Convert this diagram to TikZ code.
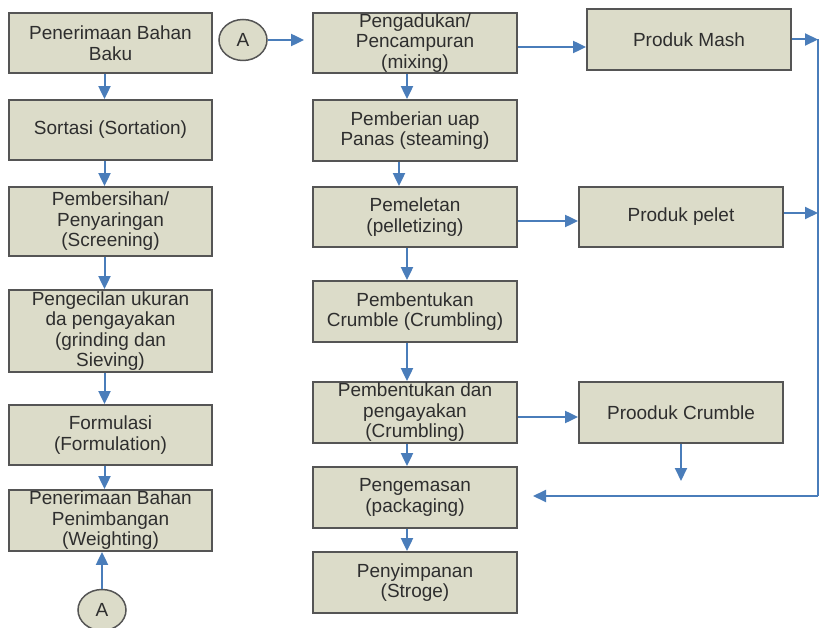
\documentclass[tikz,border=0pt]{standalone}
\usepackage{fontspec}
\setmainfont{Liberation Sans}
\usetikzlibrary{arrows.meta,shapes.geometric}
\definecolor{boxfill}{HTML}{DCDCC9}
\definecolor{boxline}{HTML}{555555}
\definecolor{arr}{HTML}{4A7DBA}
\definecolor{txt}{HTML}{2E2E2E}
\begin{document}
\begin{tikzpicture}[x=1pt,y=-1pt,
 box/.style={draw=boxline, fill=boxfill, line width=1.8pt, minimum width=203pt, minimum height=60pt, inner sep=0pt, align=center, text=txt, font=\fontsize{19}{20.5}\selectfont},
 conn/.style={ellipse, draw=boxline, fill=boxfill, line width=1.5pt, minimum width=48pt, minimum height=41pt, inner sep=0pt, text=txt, font=\fontsize{19}{20.5}\selectfont},
 arrow/.style={draw=arr, line width=2pt, -{Triangle[length=13pt,width=12pt]}},
 plain/.style={draw=arr, line width=2pt}
]
\useasboundingbox (0,0) rectangle (820,628);
% left column
\node[box] (L1) at (110.5,43) {Penerimaan Bahan\\Baku};
\node[box] (L2) at (110.5,130) {Sortasi (Sortation)};
\node[box, minimum height=69pt] (L3) at (110.5,221.5) {Pembersihan/\\Penyaringan\\(Screening)};
\node[box, minimum height=82pt] (L4) at (110.5,331) {Pengecilan ukuran\\da pengayakan\\(grinding dan\\Sieving)};
\node[box] (L5) at (110.5,435) {Formulasi\\(Formulation)};
\node[box, minimum height=61pt] (L6) at (110.5,520.5) {Penerimaan Bahan\\Penimbangan\\(Weighting)};
\node[conn] (A2) at (102,610) {A};
\node[conn] (A1) at (243,40) {A};
% middle column
\node[box, minimum width=204pt] (M1) at (415,43) {Pengadukan/\\Pencampuran\\(mixing)};
\node[box, minimum width=204pt, minimum height=61pt] (M2) at (415,130.5) {Pemberian uap\\Panas (steaming)};
\node[box, minimum width=204pt] (M3) at (415,217) {Pemeletan\\(pelletizing)};
\node[box, minimum width=204pt, minimum height=61pt] (M4) at (415,311.5) {Pembentukan\\Crumble (Crumbling)};
\node[box, minimum width=204pt, minimum height=61pt] (M5) at (415,412.5) {Pembentukan dan\\pengayakan\\(Crumbling)};
\node[box, minimum width=204pt, minimum height=61pt] (M6) at (415,497.5) {Pengemasan\\(packaging)};
\node[box, minimum width=204pt, minimum height=61pt] (M7) at (415,582.5) {Penyimpanan\\(Stroge)};
% right column
\node[box, minimum width=204pt, minimum height=61pt] (R1) at (689,39.5) {Produk Mash};
\node[box, minimum width=204pt] (R2) at (681,217) {Produk pelet};
\node[box, minimum width=204pt, minimum height=61pt] (R3) at (681,412.5) {Prooduk Crumble};
% coordinates
\coordinate (c1) at (818,39.5);
\coordinate (c2) at (818,213);
\coordinate (c3) at (818,496);
\coordinate (c4) at (533,496);
\coordinate (c5) at (681,481);
% left arrows
\draw[arrow] ([xshift=-6pt]L1.south) -- ([xshift=-6pt]L2.north);
\draw[arrow] ([xshift=-6pt]L2.south) -- ([xshift=-6pt]L3.north);
\draw[arrow] ([xshift=-6pt]L3.south) -- ([xshift=-6pt]L4.north);
\draw[arrow] ([xshift=-6pt]L4.south) -- ([xshift=-6pt]L5.north);
\draw[arrow] ([xshift=-6pt]L5.south) -- ([xshift=-6pt]L6.north);
\draw[arrow] (A2.north) -- (A2.north |- L6.south);
% middle arrows
\draw[arrow] (A1.east) -- ([xshift=-8pt]M1.west |- A1.east);
\draw[arrow] ([xshift=-8pt]M1.south) -- ([xshift=-8pt]M2.north);
\draw[arrow] ([xshift=-16pt]M2.south) -- ([xshift=-16pt]M3.north);
\draw[arrow] ([xshift=-8pt]M3.south) -- ([xshift=-8pt]M4.north);
\draw[arrow] ([xshift=-8pt]M4.south) -- ([xshift=-8pt]M5.north);
\draw[arrow] ([xshift=-8pt]M5.south) -- ([xshift=-8pt]M6.north);
\draw[arrow] ([xshift=-8pt]M6.south) -- ([xshift=-8pt]M7.north);
% to products
\draw[arrow] ([yshift=-4pt]M1.east) -- ([yshift=-4pt]M1.east -| R1.west);
\draw[arrow] ([yshift=-4pt]M3.east) -- ([yshift=-4pt]M3.east -| R2.west);
\draw[arrow] ([yshift=-4.5pt]M5.east) -- ([yshift=-4.5pt]M5.east -| R3.west);
% product outputs
\draw[arrow] (R1.east) -- (c1);
\draw[arrow] (R2.east |- c2) -- (c2);
\draw[plain] (c1) -- (c3);
\draw[arrow] (c3) -- (c4);
\draw[arrow] (R3.south) -- (c5);
\end{tikzpicture}
\end{document}
